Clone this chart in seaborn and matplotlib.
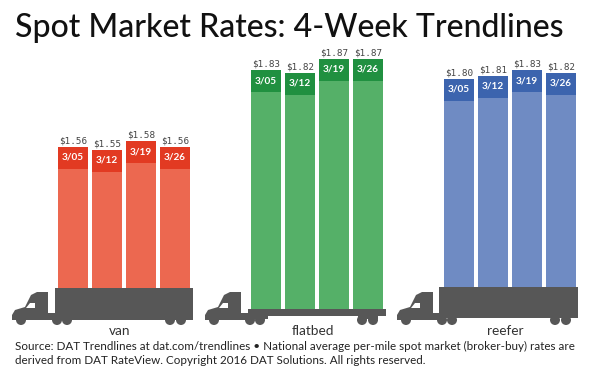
import matplotlib
matplotlib.use('Agg')
import matplotlib.pyplot as plt
from matplotlib.patches import Polygon, Rectangle, Circle
import pandas as pd
import seaborn as sns

# values
weeks = ['3/05', '3/12', '3/19', '3/26']
van = [1.56, 1.55, 1.58, 1.56]
flatbed = [1.83, 1.82, 1.87, 1.87]
reefer = [1.80, 1.81, 1.83, 1.82]

title = 'Spot Market Rates: 4-Week Trendlines'
source = ['Source: DAT Trendlines at dat.com/trendlines \u2022 National average per-mile spot market (broker-buy) rates are',
          'derived from DAT RateView. Copyright 2016 DAT Solutions. All rights reserved.']

W, H = 600, 374
PX_PER_DOLLAR = 285
BAND = 22 / PX_PER_DOLLAR
GREY = '#575757'

sns.set_theme(style='white')
plt.rcParams['font.family'] = ['Lato', 'DejaVu Sans']

fig = plt.figure(figsize=(W / 100, H / 100), dpi=100)
bg = fig.add_axes([0, 0, 1, 1])
bg.set_xlim(0, W)
bg.set_ylim(H, 0)
bg.axis('off')


def to_value(y):
    return 1.56 + (147 - y) / PX_PER_DOLLAR


def draw_bars(values, left, deck, light, dark):
    ax = fig.add_axes([left / W, 1 - deck / H, 136 / W, (deck - 20) / H])
    ax.patch.set_alpha(0)
    df = pd.DataFrame({'week': weeks, 'rate': values})
    df['body'] = df['rate'] - BAND
    sns.barplot(data=df, x='week', y='rate', color=dark, width=0.9, saturation=1, linewidth=0, ax=ax)
    sns.barplot(data=df, x='week', y='body', color=light, width=0.9, saturation=1, linewidth=0, ax=ax)
    ax.set_ylim(to_value(deck), to_value(20))
    ax.axis('off')
    for i, v in enumerate(values):
        ax.text(i, v + 1.5 / PX_PER_DOLLAR, f'${v:.2f}', ha='center', va='bottom',
                fontsize=6.7, color='#444444', family='DejaVu Sans Mono')
        ax.text(i, v - 10.5 / PX_PER_DOLLAR, weeks[i], ha='center', va='center',
                fontsize=7.2, color='white', fontweight='bold')


def truck(x, rear, base=325):
    # tractor unit, x is where the trailer starts, rear the first back wheel
    pts = [(x, base - 12), (x - 7, base - 12), (x - 7, base - 33), (x - 18, base - 33),
           (x - 24, base - 30), (x - 30, base - 18), (x - 40, base - 15), (x - 43, base - 10),
           (x - 43, base - 5), (x, base - 5)]
    bg.add_patch(Polygon(pts, closed=True, color=GREY, lw=0))
    bg.add_patch(Polygon([(x - 20, base - 22), (x - 25, base - 22), (x - 29, base - 17),
                          (x - 20, base - 17)], closed=True, color='white', lw=0))
    for wx in (x - 34, x + 2, x + 12, rear, rear + 11):
        bg.add_patch(Circle((wx, base - 5), 5, color=GREY, lw=0))


draw_bars(van, 56, 288, '#EC6850', '#E23A22')
draw_bars(flatbed, 249, 309, '#55B068', '#209040')
draw_bars(reefer, 442, 287, '#6F8BC3', '#3C64AE')

# van
bg.add_patch(Rectangle((55, 288), 138, 32, color=GREY, lw=0))
truck(55, 170)
# flatbed
bg.add_patch(Rectangle((248, 309), 138, 7, color=GREY, lw=0))
bg.add_patch(Rectangle((248, 316), 20, 3, color=GREY, lw=0))
bg.add_patch(Rectangle((358, 316), 20, 3, color=GREY, lw=0))
truck(248, 362)
# reefer
bg.add_patch(Rectangle((439, 287), 139, 31, color=GREY, lw=0))
truck(440, 555)

for name, x in zip(['van', 'flatbed', 'reefer'], [120, 313, 505]):
    bg.text(x, 331, name, ha='center', va='center', fontsize=9.8, color='#333333')

bg.text(15, 28, title, ha='left', va='center', fontsize=23, color='#111111', fontweight='medium')
bg.text(15, 346, source[0], ha='left', va='center', fontsize=8.35, color='#222222')
bg.text(15, 360, source[1], ha='left', va='center', fontsize=8.35, color='#222222')

fig.savefig('out.png', dpi=100)
